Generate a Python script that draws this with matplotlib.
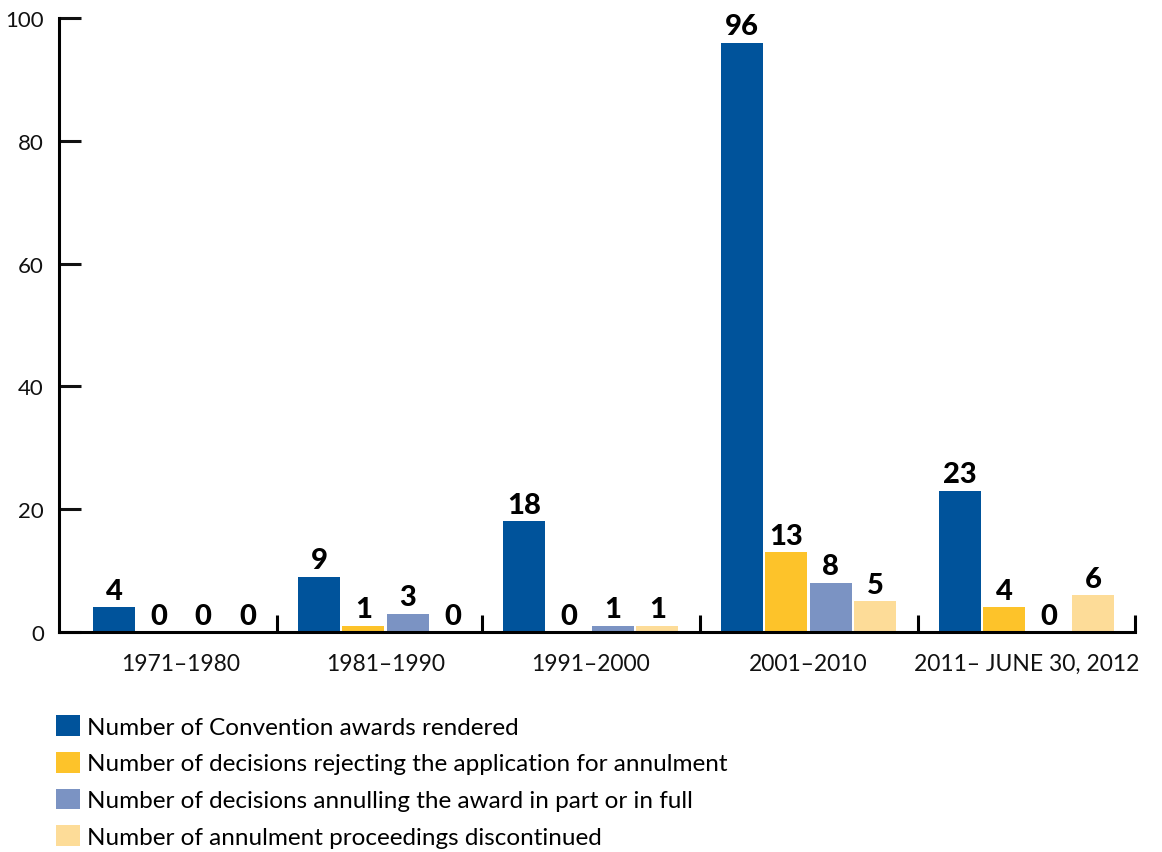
import matplotlib.pyplot as plt
import numpy as np
from matplotlib.patches import Patch

plt.rcParams['font.family'] = ['Lato', 'DejaVu Sans']

# Decades and counts for each series
periods = ['1971\u20131980', '1981\u20131990', '1991\u20132000', '2001\u20132010',
           '2011\u2013 JUNE 30, 2012']
awards = [4, 9, 18, 96, 23]
rejected = [0, 1, 0, 13, 4]
annulled = [0, 3, 1, 8, 0]
discontinued = [0, 0, 1, 5, 6]

series = [awards, rejected, annulled, discontinued]
names = ['Number of Convention awards rendered',
         'Number of decisions rejecting the application for annulment',
         'Number of decisions annulling the award in part or in full',
         'Number of annulment proceedings discontinued']
colors = ['#00539b', '#fdc32a', '#7b93c3', '#fddc98']

# group centres and divider positions along the x axis (the first two
# groups sit a little closer together than the rest)
centers = np.array([0.0, 0.94, 1.88, 2.88, 3.88])
dividers = np.array([0.442, 1.382, 2.382, 3.382, 4.377])

fig = plt.figure(figsize=(11.62, 8.53), dpi=100)
ax = fig.add_axes([0.0508, 0.2579, 0.9260, 0.7198])

slot = 0.204
width = 0.193
for k, (vals, c) in enumerate(zip(series, colors)):
    xs = centers + (k - 1.5) * slot
    ax.bar(xs, vals, width, color=c)
    for xi, v in zip(xs, vals):
        ax.annotate(str(v), (xi, v), xytext=(0, 2.5), textcoords='offset points',
                    ha='center', va='bottom', fontsize=21, fontweight='black')

ax.set_xlim(-0.558, 4.377)
ax.set_ylim(0, 100)
ax.set_yticks([0, 20, 40, 60, 80, 100])
ax.set_xticks(centers)
ax.set_xticklabels(periods)
ax.set_xticks(dividers, minor=True)

for s in ['top', 'right']:
    ax.spines[s].set_visible(False)
for s in ['left', 'bottom']:
    ax.spines[s].set_linewidth(2.2)

ax.tick_params(axis='y', direction='in', length=16, width=2.2, pad=11,
               labelsize=16, colors='#111111')
ax.tick_params(axis='x', which='major', length=0, pad=15, labelsize=16.5,
               colors='#111111')
ax.tick_params(axis='x', which='minor', direction='in', length=12, width=2.2)

handles = [Patch(facecolor=c) for c in colors]
fig.legend(handles, names, loc='upper left', bbox_to_anchor=(0.048, 0.161),
           frameon=False, fontsize=17.5, handlelength=1.0, handleheight=0.95,
           handletextpad=0.3, labelspacing=0.58, borderaxespad=0, borderpad=0)

fig.savefig('out.png', dpi=100)
